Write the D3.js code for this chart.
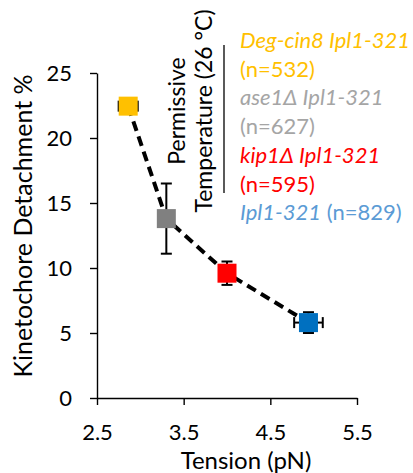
<!DOCTYPE html>
<html>
<head>
<meta charset="utf-8">
<script src="https://cdn.jsdelivr.net/npm/d3@7"></script>
<style>
  body { margin: 0; background: #fff; }
  svg { display: block; font-family: Lato, "Open Sans", sans-serif; }
</style>
</head>
<body>
<script>
// Strain data: tension (pN) vs kinetochore detachment %
const strains = ["Deg-cin8 Ipl1-321", "ase1Δ Ipl1-321", "kip1Δ Ipl1-321", "Ipl1-321"];
const tension = [2.86, 3.30, 4.00, 4.94];
const detachment = [22.45, 13.8, 9.6, 5.8];
const detachErr = [0.5, 2.7, 0.9, 0.8];
const tensionErr = [0.11, 0, 0, 0.165];
const counts = [532, 627, 595, 829];
const colors = ["#FFC000", "#808080", "#FF0000", "#0070C0"];
const textColors = ["#FFC000", "#A5A5A5", "#FF0000", "#5B9BD5"];

const xTicks = [2.5, 3.5, 4.5, 5.5];
const yTicks = [0, 5, 10, 15, 20, 25];

const width = 413;
const height = 473;

const svg = d3.select("body")
  .append("svg")
  .attr("width", width)
  .attr("height", height);

// Scales (plot area in pixels)
const x = d3.scaleLinear().domain([2.5, 5.5]).range([97, 357]);
const y = d3.scaleLinear().domain([0, 25]).range([398, 73]);

const data = tension.map((t, i) => ({
  t, d: detachment[i], ey: detachErr[i], ex: tensionErr[i], color: colors[i]
}));

// Y axis
const yAxis = svg.append("g")
  .attr("transform", `translate(${x(2.5)},0)`)
  .call(d3.axisLeft(y).tickValues(yTicks).tickSize(7).tickSizeOuter(0).tickPadding(18));
yAxis.selectAll("text")
  .style("font-size", "22px")
  .style("font-family", "Lato, sans-serif")
  .attr("fill", "#000");

// X axis
const xAxis = svg.append("g")
  .attr("transform", `translate(0,${y(0)})`)
  .call(d3.axisBottom(x).tickValues(xTicks).tickFormat(d3.format(".1f")).tickSize(7).tickSizeOuter(0));
xAxis.selectAll("text")
  .attr("dy", null)
  .attr("y", 42)
  .style("font-size", "22px")
  .style("font-family", "Lato, sans-serif")
  .attr("fill", "#000");

svg.selectAll(".domain, .tick line")
  .attr("stroke", "#000")
  .attr("stroke-width", 1.4);

// Axis titles
svg.append("text")
  .attr("transform", "rotate(-90)")
  .attr("x", -226)
  .attr("y", 32)
  .attr("text-anchor", "middle")
  .style("font-size", "25px")
  .text("Kinetochore Detachment %");

svg.append("text")
  .attr("x", 246)
  .attr("y", 469)
  .attr("text-anchor", "middle")
  .style("font-size", "24px")
  .text("Tension (pN)");

// Error bars (behind the markers)
const cap = 5.5;
const errG = svg.append("g")
  .attr("stroke", "#000")
  .attr("stroke-width", 2);

data.forEach(p => {
  if (p.ey > 0) {
    errG.append("line")
      .attr("x1", x(p.t)).attr("x2", x(p.t))
      .attr("y1", y(p.d - p.ey)).attr("y2", y(p.d + p.ey));
    [p.d - p.ey, p.d + p.ey].forEach(v => {
      errG.append("line")
        .attr("x1", x(p.t) - cap).attr("x2", x(p.t) + cap)
        .attr("y1", y(v)).attr("y2", y(v));
    });
  }
  if (p.ex > 0) {
    errG.append("line")
      .attr("x1", x(p.t - p.ex)).attr("x2", x(p.t + p.ex))
      .attr("y1", y(p.d)).attr("y2", y(p.d));
    [p.t - p.ex, p.t + p.ex].forEach(v => {
      errG.append("line")
        .attr("x1", x(v)).attr("x2", x(v))
        .attr("y1", y(p.d) - cap).attr("y2", y(p.d) + cap);
    });
  }
});

// Dashed connecting line
svg.append("path")
  .datum(data)
  .attr("fill", "none")
  .attr("stroke", "#000")
  .attr("stroke-width", 4)
  .attr("stroke-dasharray", "10,6")
  .attr("d", d3.line().x(d => x(d.t)).y(d => y(d.d)));

// Square markers
const ms = 19;
svg.selectAll("rect.marker")
  .data(data)
  .enter()
  .append("rect")
  .attr("class", "marker")
  .attr("x", d => x(d.t) - ms / 2)
  .attr("y", d => y(d.d) - ms / 2)
  .attr("width", ms)
  .attr("height", ms)
  .attr("fill", d => d.color);

// Rotated condition label with bracket line
const cond = svg.append("text")
  .attr("transform", "translate(0,111) rotate(-90)")
  .attr("text-anchor", "middle")
  .style("font-size", "23px");
cond.append("tspan").attr("x", 0).attr("y", 185).text("Permissive");
cond.append("tspan").attr("x", 0).attr("y", 212).text("Temperature (26 °C)");

svg.append("line")
  .attr("x1", 224).attr("x2", 224)
  .attr("y1", 45).attr("y2", 193)
  .attr("stroke", "#000")
  .attr("stroke-width", 1.3);

// Legend text
const legendX = 240;
const lineH = 28.7;
const legend = svg.append("g").style("font-size", "22px");
let row = 0;
strains.forEach((s, i) => {
  const t = legend.append("text")
    .attr("x", legendX)
    .attr("y", 48 + row * lineH)
    .attr("fill", textColors[i]);
  t.append("tspan").style("font-style", "italic").text(s);
  if (i === strains.length - 1) {
    t.append("tspan").text(` (n=${counts[i]})`);
    row += 1;
  } else {
    legend.append("text")
      .attr("x", legendX)
      .attr("y", 48 + (row + 1) * lineH)
      .attr("fill", textColors[i])
      .text(`(n=${counts[i]})`);
    row += 2;
  }
});
</script>
</body>
</html>
